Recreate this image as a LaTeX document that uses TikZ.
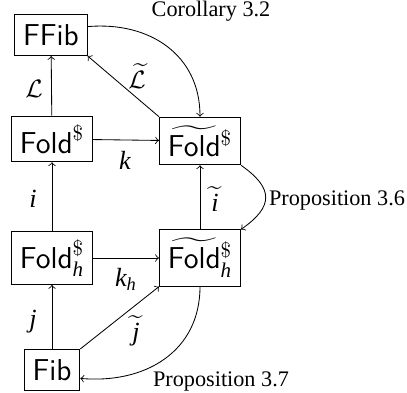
\documentclass[tikz,border=0pt]{standalone}
\usepackage{amsmath,amssymb}
\usepackage{fontspec}
\setmainfont{Liberation Serif}
\DeclareSymbolFont{letters}{TU}{\rmdefault}{m}{it}
\usepackage{tikz}

\tikzset{
  obj/.style={draw, rectangle, font=\Large, inner sep=4pt, minimum height=0.69cm},
  lbl/.style={inner sep=1pt, font=\fontsize{12.5}{14}\selectfont},
  result/.style={font=\fontsize{10.6}{12}\selectfont}
}

\begin{document}
\begin{tikzpicture}[x=0.01676cm, y=-0.01676cm, thin]
                \useasboundingbox (0, 0) rectangle (407, 393);

                % Objects
                \node[obj] (ffib) at (51, 35) {\textsf{FFib}};
                \node[obj] (fold) at (52, 139) {$\textsf{Fold}^{\$}$};
                \node[obj] (tfold) at (200, 141) {$\widetilde{\textsf{Fold}}{}^{\$}$};
                \node[obj] (foldh) at (52, 258) {$\textsf{Fold}^{\$}_{h}$};
                \node[obj] (tfoldh) at (200, 258) {$\widetilde{\textsf{Fold}}{}^{\$}_{h}$};
                \node[obj] (fib) at (52, 370) {\textsf{Fib}};

                % Edge labels
                \node[lbl] (lL) at (34, 89) {$\mathcal{L}$};
                \node[lbl] (ltL) at (137, 76) {$\widetilde{\mathcal{L}}$};
                \node[lbl] (lk) at (125, 160) {$k$};
                \node[lbl] (li) at (33, 199) {$i$};
                \node[lbl] (lti) at (215, 199) {$\widetilde{i}$};
                \node[lbl] (lkh) at (126, 279) {$k_h$};
                \node[lbl] (lj) at (33, 322) {$j$};
                \node[lbl] (ltj) at (136, 331) {$\widetilde{j}$};

                % Results
                \node[result] (cor) at (211, 11) {Corollary 3.2};
                \node[result] (prop6) at (337, 201) {Proposition 3.6};
                \node[result] (prop7) at (221, 382) {Proposition 3.7};

                % Square arrows
                \draw[->] (fold) -- (ffib);
                \draw[->] (tfold.north west) -- (ffib.south east);
                \draw[->] (fold) -- (tfold);
                \draw[->] (foldh) -- (fold);
                \draw[->] (tfoldh) -- (tfold);
                \draw[->] (foldh) -- (tfoldh);
                \draw[->] (fib) -- (foldh);
                \draw[->] (fib.north east) -- (tfoldh.south west);

                % Curved arrows
                \draw[->] ([yshift=4pt]ffib.east) to[out=5, in=90, looseness=1.1] (tfold.north);
                \draw[->] (tfold.south east) to[out=-35, in=35, looseness=1.6] (tfoldh.north east);
                \draw[->] (tfoldh.south) to[out=-90, in=-5, looseness=1.1] ([yshift=-4pt]fib.east);
            \end{tikzpicture}
\end{document}
